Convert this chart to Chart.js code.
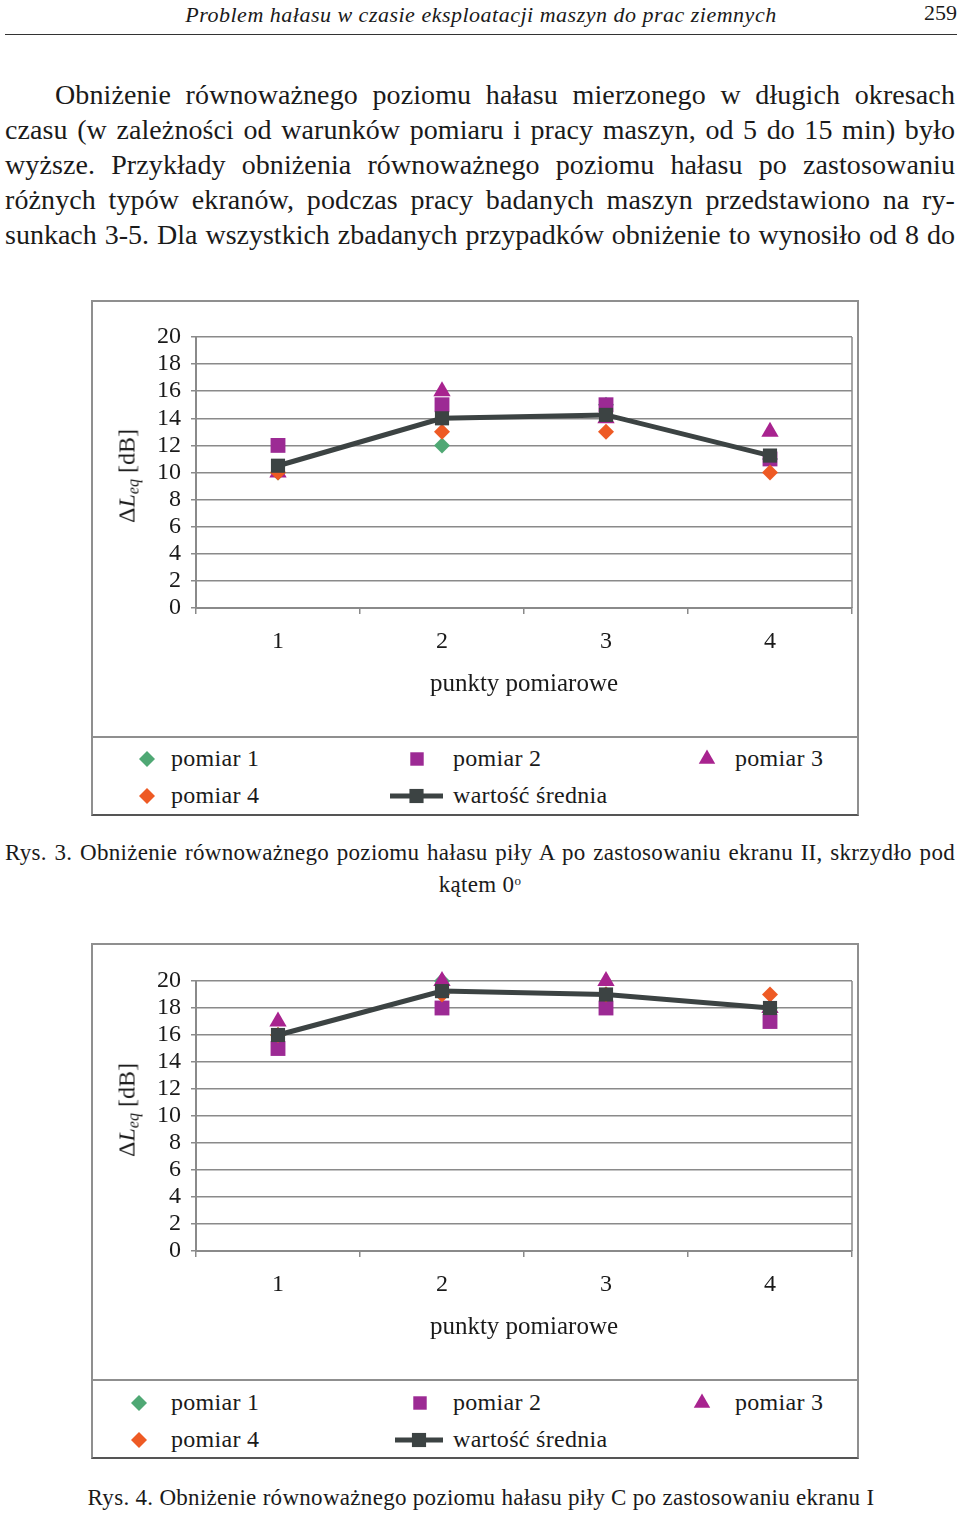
<!DOCTYPE html>
<html lang="pl">
<head>
<meta charset="utf-8">
<title>Rys. 3 i Rys. 4</title>
<script src="https://cdn.jsdelivr.net/npm/chart.js@4.4.1/dist/chart.umd.min.js"></script>
<style>
  html, body { margin: 0; padding: 0; background: #fff; }
  body { width: 960px; height: 1517px; position: relative; overflow: hidden;
         font-family: "Liberation Serif", "DejaVu Serif", serif; color: #1a1a1a; }
  .hdr { position: absolute; top: 1px; left: 0; width: 962px; text-align: center;
         font-style: italic; font-size: 22px; line-height: 28px; letter-spacing: 0.5px; }
  .pageno { position: absolute; top: -1px; right: 3px; font-size: 22px; line-height: 28px; }
  .rule { position: absolute; top: 34px; left: 5px; width: 952px; height: 0; border-top: 1.5px solid #333; }
  .para { position: absolute; top: 77px; left: 5px; width: 950px; font-size: 28px; letter-spacing: 0.1px; }
  .para div { height: 35px; line-height: 35px; white-space: nowrap;
              text-align: justify; text-align-last: justify; }
  .para div.first { padding-left: 50px; }
  .para div.tight { letter-spacing: 0; }
  .box { position: absolute; left: 91px; width: 768px; height: 516px; box-sizing: border-box;
         border: 2px solid #8f8f8f; border-bottom-color: #555; }
  .box canvas { position: absolute; left: 0; top: 0; }
  .sep { position: absolute; left: 0; top: 434px; width: 764px; border-top: 2px solid #8f8f8f; }
  .ylab { position: absolute; left: 35px; font-size: 24px; white-space: nowrap;
          transform: translate(-50%, -50%) rotate(-90deg); }
  .ylab sub { font-size: 16px; vertical-align: -4px; }
  .leg-item { position: absolute; font-size: 24px; line-height: 28px; white-space: nowrap; letter-spacing: 0.3px; }
  .leg-mark { position: absolute; }
  .cap { position: absolute; font-size: 23px; letter-spacing: 0.3px; }
  .cap div { height: 28px; line-height: 28px; white-space: nowrap; }
  .cap div.j { text-align: justify; text-align-last: justify; }
  .cap div.c { text-align: center; }
  .cap sup { font-size: 13px; vertical-align: 7px; }
</style>
</head>
<body>

<div class="hdr">Problem hałasu w czasie eksploatacji maszyn do prac ziemnych</div>
<div class="pageno">259</div>
<div class="rule"></div>

<div class="para">
  <div class="first">Obniżenie równoważnego poziomu hałasu mierzonego w długich okresach</div>
  <div>czasu (w zależności od warunków pomiaru i pracy maszyn, od 5 do 15 min) było</div>
  <div>wyższe. Przykłady obniżenia równoważnego poziomu hałasu po zastosowaniu</div>
  <div>różnych typów ekranów, podczas pracy badanych maszyn przedstawiono na ry-</div>
  <div class="tight">sunkach 3-5. Dla wszystkich zbadanych przypadków obniżenie to wynosiło od 8 do</div>
</div>

<div class="box" id="box3" style="top:300px">
  <canvas id="chart3" width="764" height="434"></canvas>
  <div class="ylab" style="top:174px">Δ<i>L<sub>eq</sub></i> [dB]</div>
  <div class="sep"></div>
</div>

<div class="cap" style="top:839px; left:5px; width:950px">
  <div class="j">Rys. 3. Obniżenie równoważnego poziomu hałasu piły A po zastosowaniu ekranu II, skrzydło pod</div>
  <div class="c">kątem 0<sup>o</sup></div>
</div>

<div class="box" id="box4" style="top:943px">
  <canvas id="chart4" width="764" height="434"></canvas>
  <div class="ylab" style="top:165px">Δ<i>L<sub>eq</sub></i> [dB]</div>
  <div class="sep"></div>
</div>

<div class="cap" style="top:1484px; left:0; width:962px">
  <div class="c">Rys. 4. Obniżenie równoważnego poziomu hałasu piły C po zastosowaniu ekranu I</div>
</div>

<script>
// ===== DATA =====
const categories = ['1', '2', '3', '4'];
const seriesNames = ['pomiar 1', 'pomiar 2', 'pomiar 3', 'pomiar 4', 'wartość średnia'];
const yMin = 0, yMax = 20, yStep = 2;
const xTitle = 'punkty pomiarowe';

// Rys. 3 - piła A, ekran II, skrzydło 0°
const rys3Pomiar1 = [10, 12, 15, 11];
const rys3Pomiar2 = [12, 15, 15, 11];
const rys3Pomiar3 = [10, 16, 14, 13];
const rys3Pomiar4 = [10, 13, 13, 10];
const rys3Srednia = [10.5, 14, 14.25, 11.25];

// Rys. 4 - piła C, ekran I
const rys4Pomiar1 = [16, 20, 19, 18];
const rys4Pomiar2 = [15, 18, 18, 17];
const rys4Pomiar3 = [17, 20, 20, 18];
const rys4Pomiar4 = [16, 19, 19, 19];
const rys4Srednia = [16, 19.25, 19, 18];

// ===== STYLES =====
const seriesStyle = [
  { color: '#4fa874', pointStyle: 'rectRot',  radius: 8,    legendR: 8 },
  { color: '#9c2a94', pointStyle: 'rect',     radius: 10.5, legendR: 9.5 },
  { color: '#a8238f', pointStyle: 'triangle', radius: 10,   legendR: 9.5 },
  { color: '#ee5a24', pointStyle: 'rectRot',  radius: 8,    legendR: 8 },
  { color: '#3c4343', pointStyle: 'rect',     radius: 10,   legendR: 10, line: 5 }
];
const gridColor = '#8a8a8a';
const fontFamily = '"Liberation Serif", "DejaVu Serif", serif';

// right border of the plot area
const plotFrame = {
  id: 'plotFrame',
  afterDraw(chart) {
    const { ctx, chartArea: a } = chart;
    ctx.save();
    ctx.strokeStyle = gridColor;
    ctx.lineWidth = 1.5;
    ctx.beginPath();
    ctx.moveTo(a.right, a.top);
    ctx.lineTo(a.right, a.bottom);
    ctx.stroke();
    ctx.restore();
  }
};

function buildChart(canvasId, boxId, series, topPad, legendSlots) {
  const datasets = series.map((data, i) => {
    const s = seriesStyle[i];
    return {
      label: seriesNames[i],
      data: data,
      showLine: !!s.line,
      borderColor: s.color,
      borderWidth: s.line || 0,
      backgroundColor: s.color,
      pointStyle: s.pointStyle,
      pointRadius: s.radius,
      pointHoverRadius: s.radius,
      pointBorderWidth: 0,
      pointBackgroundColor: s.color,
      tension: 0,
      clip: false,
      order: series.length - 1 - i   // mean on top, pomiar 1 at the bottom
    };
  });

  const chart = new Chart(document.getElementById(canvasId), {
    type: 'line',
    data: { labels: categories, datasets: datasets },
    options: {
      responsive: false,
      animation: false,
      layout: { autoPadding: false, padding: { left: 0, right: 5, top: topPad, bottom: 0 } },
      plugins: { legend: { display: false }, tooltip: { enabled: false } },
      scales: {
        x: {
          offset: true,
          grid: { display: true, drawOnChartArea: false, offset: true, tickLength: 6, color: gridColor, lineWidth: 1.5 },
          border: { display: true, color: gridColor, width: 2 },
          ticks: { color: '#1a1a1a', padding: 13, autoSkip: false, font: { family: fontFamily, size: 24 } },
          title: { display: true, text: xTitle, color: '#1a1a1a', padding: { top: 0, bottom: 37 },
                   font: { family: fontFamily, size: 25 } },
          afterFit(scale) { scale.height = 128; scale.paddingLeft = 0; scale.paddingRight = 0; }
        },
        y: {
          min: yMin, max: yMax,
          grid: { color: gridColor, lineWidth: 1.5, tickLength: 5 },
          border: { display: true, color: gridColor, width: 2 },
          ticks: { stepSize: yStep, autoSkip: false, color: '#1a1a1a', padding: 10, font: { family: fontFamily, size: 24 } },
          afterFit(scale) { scale.width = 103; }
        }
      }
    },
    plugins: [plotFrame]
  });

  // legend in the lower part of the box
  const box = document.getElementById(boxId);
  chart.data.datasets.forEach((ds, i) => {
    const slot = legendSlots[i];
    const s = seriesStyle[i];
    const w = s.line ? slot.w : 26, h = 26;
    const c = document.createElement('canvas');
    c.width = w; c.height = h;
    c.className = 'leg-mark';
    c.style.left = (slot.mx - w / 2) + 'px';
    c.style.top = (slot.y - h / 2) + 'px';
    const ctx = c.getContext('2d');
    ctx.fillStyle = s.color;
    ctx.strokeStyle = s.color;
    if (s.line) {
      ctx.lineWidth = s.line;
      ctx.beginPath(); ctx.moveTo(0, h / 2); ctx.lineTo(w, h / 2); ctx.stroke();
    }
    const r = s.legendR;
    if (Chart.helpers && Chart.helpers.drawPoint) {
      Chart.helpers.drawPoint(ctx, { pointStyle: s.pointStyle, radius: r, rotation: 0, borderWidth: 0 }, w / 2, h / 2);
    } else {
      ctx.fillRect(w / 2 - r * 0.7, h / 2 - r * 0.7, r * 1.4, r * 1.4);
    }
    box.appendChild(c);

    const t = document.createElement('div');
    t.className = 'leg-item';
    t.textContent = ds.label;
    t.style.left = slot.tx + 'px';
    t.style.top = (slot.y - 15) + 'px';
    box.appendChild(t);
  });
  return chart;
}

document.addEventListener('DOMContentLoaded', function () {
  buildChart('chart3', 'box3',
    [rys3Pomiar1, rys3Pomiar2, rys3Pomiar3, rys3Pomiar4, rys3Srednia], 35,
    [ { mx: 54,  tx: 78,  y: 457 },
      { mx: 324, tx: 360, y: 457 },
      { mx: 614, tx: 642, y: 457 },
      { mx: 54,  tx: 78,  y: 494 },
      { mx: 323, tx: 360, y: 494, w: 53 } ]);

  buildChart('chart4', 'box4',
    [rys4Pomiar1, rys4Pomiar2, rys4Pomiar3, rys4Pomiar4, rys4Srednia], 36,
    [ { mx: 46,  tx: 78,  y: 458 },
      { mx: 327, tx: 360, y: 458 },
      { mx: 609, tx: 642, y: 458 },
      { mx: 46,  tx: 78,  y: 495 },
      { mx: 326, tx: 360, y: 495, w: 48 } ]);
});
</script>
</body>
</html>
